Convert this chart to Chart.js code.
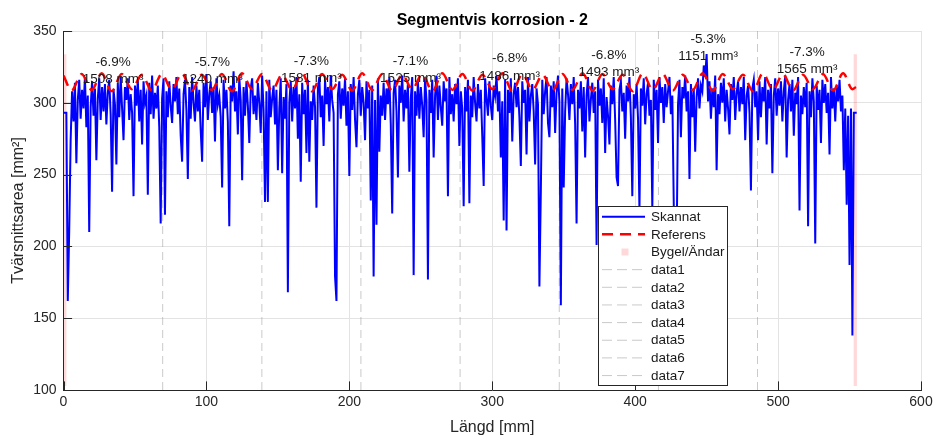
<!DOCTYPE html>
<html lang="sv">
<head>
    <meta charset="UTF-8">
    <title>Segmentvis korrosion - 2</title>
    <script src="https://cdn.jsdelivr.net/npm/chart.js"></script>
    <style>
        html, body { margin: 0; padding: 0; background: #fff; }
    </style>
</head>
<body>
    <canvas id="korrChart" width="937" height="441"></canvas>

    <script>
        // scanned cross section area, one value per mm from 0 mm
        const scanStep = 1;
        const scanArea = [
            293,293,293,162,211,274,308,287,314,258,
            302,316,289,309,296,318,283,305,210,297,
            315,291,310,260,303,317,288,311,294,313,
            285,307,316,292,238,309,299,257,314,290,
            318,296,274,311,302,317,288,306,293,235,
            312,298,316,287,309,271,315,300,305,236,
            314,292,319,289,307,296,312,283,216,303,
            317,222,308,290,315,298,286,313,301,318,
            292,310,277,259,306,316,295,247,311,289,
            318,300,287,312,294,309,281,259,314,297,
            320,288,306,315,293,311,273,317,299,305,
            290,241,316,296,309,287,214,312,301,322,
            294,308,278,318,302,246,311,291,315,298,
            272,310,317,292,305,288,314,300,279,319,
            295,231,308,231,316,290,303,312,285,309,
            253,296,317,251,304,289,313,168,300,315,
            287,311,296,318,275,306,245,314,292,309,
            265,316,259,301,288,312,297,227,310,318,
            290,305,270,316,299,311,287,319,302,293,
            179,162,306,315,289,310,298,317,284,308,
            249,313,295,318,288,269,306,316,291,311,
            300,274,315,296,309,232,312,179,302,215,
            317,266,305,291,314,288,310,299,318,285,
            223,307,316,294,248,312,300,319,287,309,
            296,314,252,303,318,180,308,291,315,289,
            311,298,276,317,302,177,309,293,316,262,
            305,319,288,312,297,284,315,301,310,235,
            318,292,306,287,313,299,317,270,308,296,
            228,311,294,316,230,305,290,318,300,287,
            313,296,309,277,242,317,303,291,315,298,
            288,312,305,319,294,308,262,301,218,316,
            211,309,293,317,273,306,314,297,311,290,
            256,315,300,309,264,318,287,305,313,294,
            257,310,299,172,239,316,292,308,318,286,
            276,312,297,315,279,307,319,301,159,310,
            241,294,317,306,288,313,299,318,285,216,
            309,296,315,280,311,262,305,318,287,302,
            314,293,308,201,316,298,310,286,317,265,
            304,291,271,312,299,318,288,248,242,309,
            315,294,307,275,312,301,318,290,235,306,
            296,313,289,225,310,298,317,285,306,314,
            291,302,226,316,295,309,272,318,300,311,
            286,313,297,308,318,292,305,230,103,200,
            299,316,276,311,303,319,294,308,247,313,
            290,310,266,304,317,296,312,308,326,318,
            334,301,315,289,310,297,319,253,306,292,
            314,300,317,287,309,296,278,313,302,318,
            288,307,315,294,311,299,318,274,305,312,
            293,239,310,316,297,308,274,315,290,311,
            301,318,271,309,296,313,251,305,317,291,
            310,298,315,287,308,319,262,302,313,294,
            316,277,307,299,318,225,305,292,311,297,
            314,214,308,290,317,301,202,312,295,309,
            272,316,300,313,293,307,264,318,296,310,
            287,312,301,316,294,305,253,296,229,291,
            187,296,138,293,293,293
        ];

        // reference profile: rib peaks and troughs
        const refX = [
            0, 5.7, 12.7, 19.7, 26.7, 33.7, 40.7, 47.8, 54.8, 61.8,
            68.8, 75.8, 82.8, 89.8, 96.8, 103.8, 110.8, 117.9, 124.9, 131.9,
            138.9, 145.9, 152.9, 159.9, 166.9, 173.9, 180.9, 188.0, 195.0, 202.0,
            209.0, 216.0, 223.0, 230.0, 237.0, 244.0, 251.0, 258.1, 265.1, 272.1,
            279.1, 286.1, 293.1, 300.1, 307.1, 314.1, 321.1, 328.2, 335.2, 342.2,
            349.2, 356.2, 363.2, 370.2, 377.2, 384.2, 391.2, 398.3, 405.3, 412.3,
            419.3, 426.3, 433.3, 440.3, 447.3, 454.3, 461.3, 468.4, 475.4, 482.4,
            489.4, 496.4, 503.4, 510.4, 517.4, 524.4, 531.4, 538.5, 545.5, 552.0,
            554.5
        ];
        const refY = [
            319, 308.5, 320, 309, 320.5, 308, 320, 309.5, 319.5, 308.5,
            320, 309, 320.5, 308.5, 319.5, 309, 320, 308, 320.5, 309.5,
            320, 308.5, 319.5, 309, 320.5, 308, 320, 309.5, 319.5, 308.5,
            320.5, 309, 320, 308.5, 319.5, 309.5, 320, 308, 320.5, 309,
            320, 308.5, 319.5, 309.5, 320.5, 308, 320, 309, 319.5, 308.5,
            320, 309, 320.5, 308.5, 320, 309.5, 319.5, 308, 320.5, 309,
            320, 308.5, 319.5, 309, 320.5, 308.5, 320, 309.5, 319.5, 308,
            320.5, 309, 320, 308.5, 319.5, 309.5, 320, 308.5, 320.5, 309.5,
            311
        ];

        // segment borders and labels
        const segBorders = [69.4, 138.8, 208.1, 277.5, 346.9, 416.3, 485.6];
        const segCenters = [34.7, 104.1, 173.5, 242.8, 312.2, 381.6, 451.0, 520.3];
        const segPercent = ['-6.9%', '-5.7%', '-7.3%', '-7.1%', '-6.8%', '-6.8%', '-5.3%', '-7.3%'];
        const segVolume = ['1508 mm³', '1240 mm³', '1581 mm³', '1525 mm³', '1486 mm³', '1493 mm³', '1151 mm³', '1565 mm³'];
        const segLabelY = [317.3, 317.3, 318, 318, 319.7, 322, 333.1, 323.9];

        // stirrup / end zones
        const endZones = [[0, 2.2], [552.7, 555.2]];
        const endZoneY = [102.7, 333.8];

        const xTicks = [0, 100, 200, 300, 400, 500, 600];
        const yTicks = [100, 150, 200, 250, 300, 350];

        const FONT = "'Liberation Sans', Arial, Helvetica, sans-serif";
        const AXIS_COL = '#262626';
        const DASH_COL = 'rgba(150,150,150,0.5)';
        const PINK = 'rgba(255,0,0,0.15)';

        const scanPoints = scanArea.map((v, i) => ({ x: i * scanStep, y: v }));
        const refPoints = refX.map((x, i) => ({ x: x, y: refY[i] }));

        const datasets = [
            {
                label: 'Referens',
                data: refPoints,
                borderColor: '#ff0000',
                borderWidth: 2.5,
                borderDash: [11, 7],
                cubicInterpolationMode: 'monotone',
                pointRadius: 0,
                order: 0
            },
            {
                label: 'Skannat',
                data: scanPoints,
                borderColor: '#0000ff',
                borderWidth: 2,
                pointRadius: 0,
                tension: 0,
                order: 1
            }
        ];
        endZones.forEach((z, i) => {
            datasets.push({
                label: 'Bygel/Ändar',
                data: [{ x: z[0], y: endZoneY[1] }, { x: z[1], y: endZoneY[1] }],
                borderWidth: 0,
                borderColor: 'rgba(0,0,0,0)',
                backgroundColor: PINK,
                fill: { value: endZoneY[0] },
                pointRadius: 0,
                hideInLegend: i > 0,
                order: 3
            });
        });
        segBorders.forEach((b, i) => {
            datasets.push({
                label: 'data' + (i + 1),
                data: [{ x: b, y: yTicks[0] }, { x: b, y: yTicks[yTicks.length - 1] }],
                borderColor: DASH_COL,
                borderWidth: 1,
                borderDash: [8, 5],
                pointRadius: 0,
                order: 2
            });
        });

        // legend order as in the figure
        const legendOrder = ['Skannat', 'Referens', 'Bygel/Ändar', 'data1', 'data2', 'data3', 'data4', 'data5', 'data6', 'data7'];

        const decor = {
            id: 'decor',
            afterDatasetsDraw(chart) {
                const { ctx, chartArea: area, scales: { x, y } } = chart;
                ctx.save();

                // inward tick marks
                ctx.strokeStyle = AXIS_COL;
                ctx.lineWidth = 1;
                ctx.beginPath();
                xTicks.forEach(t => {
                    const px = Math.round(x.getPixelForValue(t)) + 0.5;
                    ctx.moveTo(px, area.bottom);
                    ctx.lineTo(px, area.bottom - 8.6);
                });
                yTicks.forEach(t => {
                    const py = Math.round(y.getPixelForValue(t)) + 0.5;
                    ctx.moveTo(area.left, py);
                    ctx.lineTo(area.left + 8.6, py);
                });
                ctx.stroke();

                // segment labels
                ctx.fillStyle = '#1a1a1a';
                ctx.font = '13.5px ' + FONT;
                ctx.textAlign = 'center';
                ctx.textBaseline = 'alphabetic';
                segCenters.forEach((c, i) => {
                    const px = x.getPixelForValue(c);
                    const py = y.getPixelForValue(segLabelY[i]) + 5;
                    ctx.fillText(segPercent[i], px, py - 17.3);
                    ctx.fillText(segVolume[i], px, py);
                });

                // title
                ctx.fillStyle = '#000';
                ctx.font = 'bold 16px ' + FONT;
                ctx.fillText('Segmentvis korrosion - 2', (area.left + area.right) / 2, 24.5);

                // legend box
                const lx = 598.5, ly = 206.5, lw = 129, lh = 179;
                ctx.fillStyle = '#fff';
                ctx.fillRect(lx, ly, lw, lh);
                ctx.strokeStyle = AXIS_COL;
                ctx.lineWidth = 1;
                ctx.strokeRect(lx, ly, lw, lh);

                ctx.font = '13.5px ' + FONT;
                ctx.textAlign = 'left';
                ctx.textBaseline = 'middle';
                legendOrder.forEach((name, i) => {
                    const ds = chart.data.datasets.find(d => d.label === name && !d.hideInLegend);
                    const rowY = 216.7 + i * 17.65;
                    if (ds.fill) {
                        ctx.fillStyle = PINK;
                        ctx.fillRect(621.5, rowY - 3.5, 7, 7);
                    } else {
                        ctx.strokeStyle = ds.borderColor;
                        ctx.lineWidth = ds.borderWidth;
                        ctx.setLineDash(name.startsWith('data') ? [10, 5] : (ds.borderDash || []));
                        ctx.beginPath();
                        ctx.moveTo(602, rowY);
                        ctx.lineTo(645, rowY);
                        ctx.stroke();
                        ctx.setLineDash([]);
                    }
                    ctx.fillStyle = '#1a1a1a';
                    ctx.fillText(name, 651, rowY + 0.5);
                });

                ctx.restore();
            }
        };

        new Chart(document.getElementById('korrChart'), {
            type: 'line',
            data: { datasets: datasets },
            options: {
                responsive: false,
                animation: false,
                devicePixelRatio: 1,
                layout: { padding: { top: 31, right: 16, left: 0, bottom: 0 } },
                plugins: {
                    legend: { display: false },
                    title: { display: false },
                    tooltip: { enabled: false }
                },
                scales: {
                    x: {
                        type: 'linear',
                        min: 0,
                        max: 600,
                        afterBuildTicks: s => { s.ticks = xTicks.map(v => ({ value: v })); },
                        afterFit: s => { s.height = 51; },
                        ticks: { color: AXIS_COL, font: { family: FONT, size: 14 }, padding: 4, maxRotation: 0 },
                        grid: { color: '#e3e3e3', drawTicks: false },
                        border: { color: AXIS_COL, width: 1 },
                        title: {
                            display: true,
                            text: 'Längd [mm]',
                            color: AXIS_COL,
                            font: { family: FONT, size: 16 },
                            padding: { top: 0, bottom: 3.4 }
                        }
                    },
                    y: {
                        min: 100,
                        max: 350,
                        afterBuildTicks: s => { s.ticks = yTicks.map(v => ({ value: v })); },
                        afterFit: s => { s.width = 63.5; },
                        ticks: { color: AXIS_COL, font: { family: FONT, size: 14 }, padding: 7 },
                        grid: { color: '#e3e3e3', drawTicks: false },
                        border: { color: AXIS_COL, width: 1 },
                        title: {
                            display: true,
                            text: 'Tvärsnittsarea [mm²]',
                            color: AXIS_COL,
                            font: { family: FONT, size: 16 },
                            padding: { top: 9.4, bottom: 0 }
                        }
                    }
                }
            },
            plugins: [decor]
        });
    </script>
</body>
</html>
